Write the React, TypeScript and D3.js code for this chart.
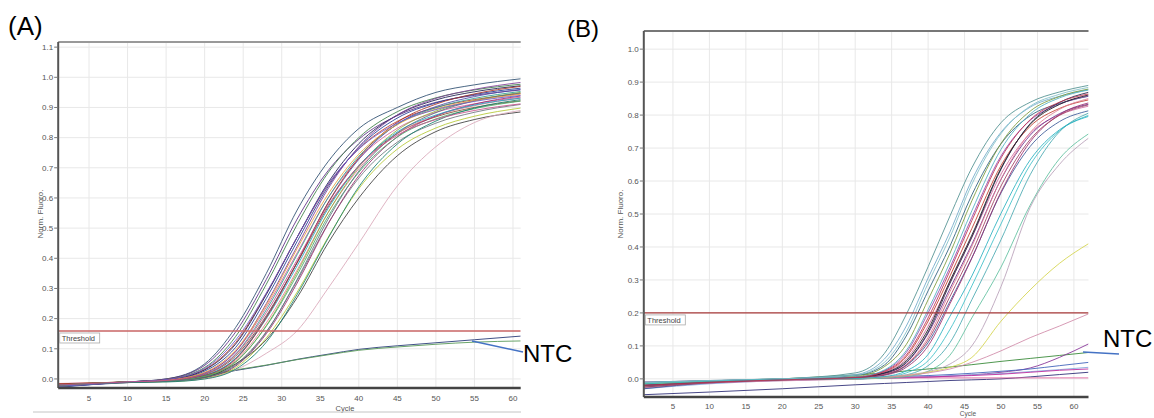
import React from 'react';
import * as d3 from 'd3';

const cyclesA = [1, 10, 15, 20, 24, 28, 32, 36, 40, 45, 50, 55, 61];
const cyclesB = [1, 10, 20, 30, 34, 37, 40, 43, 46, 50, 54, 58, 62];

const xTicks = [5, 10, 15, 20, 25, 30, 35, 40, 45, 50, 55, 60];
const yTicksA = [0, 0.1, 0.2, 0.3, 0.4, 0.5, 0.6, 0.7, 0.8, 0.9, 1.0, 1.1];
const yTicksB = [0, 0.1, 0.2, 0.3, 0.4, 0.5, 0.6, 0.7, 0.8, 0.9, 1.0];

const thresholdA = 0.159;
const thresholdB = 0.2;

// (A) amplification curves, Norm. Fluoro.
const curvesA = [
  [-0.02, -0.01, 0.0, 0.05, 0.17, 0.35, 0.56, 0.72, 0.83, 0.9, 0.95, 0.975, 0.995],
  [-0.025, -0.01, 0.0, 0.045, 0.155, 0.33, 0.53, 0.69, 0.795, 0.873, 0.917, 0.94, 0.958],
  [-0.018, -0.01, -0.001, 0.038, 0.14, 0.314, 0.512, 0.683, 0.8, 0.886, 0.932, 0.958, 0.977],
  [-0.022, -0.01, -0.002, 0.032, 0.12, 0.283, 0.47, 0.643, 0.763, 0.854, 0.9, 0.926, 0.946],
  [-0.028, -0.01, -0.004, 0.026, 0.104, 0.267, 0.456, 0.637, 0.767, 0.865, 0.915, 0.943, 0.964],
  [-0.015, -0.01, -0.004, 0.02, 0.09, 0.238, 0.418, 0.6, 0.73, 0.831, 0.884, 0.912, 0.934],
  [-0.02, -0.01, -0.005, 0.017, 0.082, 0.229, 0.412, 0.6, 0.738, 0.844, 0.899, 0.93, 0.953],
  [-0.025, -0.01, -0.005, 0.015, 0.075, 0.21, 0.385, 0.57, 0.707, 0.814, 0.869, 0.9, 0.922],
  [-0.018, -0.01, -0.006, 0.012, 0.068, 0.206, 0.387, 0.582, 0.728, 0.845, 0.903, 0.936, 0.96],
  [-0.02, -0.01, -0.006, 0.01, 0.06, 0.186, 0.361, 0.551, 0.697, 0.813, 0.872, 0.906, 0.931],
  [-0.022, -0.01, -0.007, 0.008, 0.055, 0.177, 0.354, 0.551, 0.703, 0.825, 0.888, 0.923, 0.95],
  [-0.025, -0.01, -0.007, 0.006, 0.048, 0.157, 0.326, 0.515, 0.666, 0.785, 0.848, 0.884, 0.91],
  [-0.02, -0.01, -0.008, 0.004, 0.042, 0.15, 0.318, 0.513, 0.674, 0.803, 0.872, 0.911, 0.938],
  [-0.018, -0.01, -0.009, 0.002, 0.037, 0.136, 0.288, 0.469, 0.631, 0.762, 0.832, 0.871, 0.898],
  [-0.02, -0.012, -0.008, 0.005, 0.05, 0.13, 0.27, 0.45, 0.6, 0.74, 0.82, 0.86, 0.885],
  [-0.02, -0.012, -0.008, 0.0, 0.03, 0.085, 0.16, 0.3, 0.45, 0.64, 0.77, 0.85, 0.89],
  [-0.02, -0.01, -0.003, 0.03, 0.115, 0.28, 0.47, 0.65, 0.78, 0.875, 0.925, 0.952, 0.972],
  [-0.022, -0.01, -0.004, 0.02, 0.09, 0.25, 0.44, 0.63, 0.77, 0.875, 0.93, 0.96, 0.983],
  [-0.02, -0.01, -0.006, 0.012, 0.068, 0.2, 0.375, 0.564, 0.706, 0.819, 0.875, 0.908, 0.931],
  [-0.016, -0.01, -0.006, 0.011, 0.065, 0.203, 0.386, 0.584, 0.733, 0.851, 0.911, 0.945, 0.97],
  [-0.024, -0.01, -0.007, 0.009, 0.057, 0.175, 0.345, 0.538, 0.685, 0.802, 0.862, 0.896, 0.921],
  [-0.02, -0.01, -0.008, 0.005, 0.045, 0.155, 0.33, 0.529, 0.689, 0.815, 0.883, 0.922, 0.948],
  [-0.02, -0.01, -0.004, 0.022, 0.095, 0.245, 0.432, 0.612, 0.745, 0.843, 0.895, 0.922, 0.944],
  [-0.025, -0.01, -0.002, 0.035, 0.128, 0.285, 0.47, 0.645, 0.762, 0.848, 0.893, 0.92, 0.94],
  [-0.02, -0.012, -0.01, 0.0, 0.032, 0.122, 0.28, 0.466, 0.637, 0.779, 0.855, 0.898, 0.926],
  [-0.02, -0.01, -0.005, 0.016, 0.08, 0.22, 0.395, 0.575, 0.706, 0.808, 0.86, 0.89, 0.912],
];
const coloursA = [
  '#2b4c6f', '#5b2c83', '#3a7d44', '#c0392b', '#1f3a93', '#d35d9a', '#2a9d8f', '#7b4f2c',
  '#4a4aa8', '#e07b91', '#8db33a', '#6c757d', '#9b2d6e', '#b5c834', '#3c3c3c', '#d9a7b8',
  '#1b1b4d', '#7d3c98', '#20a4c4', '#a93226', '#48a868', '#5d6d7e', '#e6a23c', '#6a5acd',
  '#17806d', '#c44e8a',
];
const ntcA = [
  [-0.025, -0.012, -0.005, 0.01, 0.028, 0.045, 0.065, 0.082, 0.098, 0.11, 0.12, 0.13, 0.142],
  [-0.02, -0.01, -0.004, 0.012, 0.03, 0.046, 0.064, 0.08, 0.095, 0.106, 0.115, 0.122, 0.126],
];
const ntcColoursA = ['#2c3e7a', '#5a9a5a'];

// (B) amplification curves
const curvesB = [
  [-0.02, -0.01, 0.0, 0.018, 0.077, 0.195, 0.34, 0.494, 0.64, 0.777, 0.839, 0.87, 0.89],
  [-0.015, -0.008, 0.0, 0.013, 0.06, 0.16, 0.306, 0.446, 0.603, 0.748, 0.824, 0.857, 0.877],
  [-0.025, -0.01, -0.002, 0.01, 0.042, 0.13, 0.267, 0.403, 0.558, 0.713, 0.798, 0.835, 0.857],
  [-0.02, -0.01, -0.003, 0.007, 0.037, 0.104, 0.24, 0.381, 0.54, 0.714, 0.812, 0.856, 0.879],
  [-0.018, -0.008, -0.002, 0.005, 0.025, 0.08, 0.2, 0.338, 0.49, 0.676, 0.784, 0.833, 0.858],
  [-0.022, -0.01, -0.003, 0.004, 0.021, 0.067, 0.175, 0.312, 0.456, 0.647, 0.766, 0.82, 0.846],
  [-0.028, -0.012, -0.004, 0.004, 0.02, 0.06, 0.16, 0.294, 0.429, 0.621, 0.745, 0.8, 0.827],
  [-0.012, -0.006, 0.0, 0.004, 0.018, 0.055, 0.15, 0.297, 0.436, 0.639, 0.772, 0.832, 0.861],
  [-0.02, -0.01, -0.002, 0.003, 0.016, 0.048, 0.138, 0.274, 0.408, 0.605, 0.739, 0.804, 0.833],
  [-0.016, -0.008, -0.001, 0.003, 0.014, 0.043, 0.126, 0.265, 0.402, 0.606, 0.747, 0.817, 0.85],
  [-0.03, -0.012, -0.004, 0.002, 0.012, 0.04, 0.11, 0.235, 0.367, 0.564, 0.705, 0.78, 0.813],
  [-0.018, -0.008, -0.002, 0.002, 0.011, 0.035, 0.1, 0.228, 0.366, 0.567, 0.719, 0.801, 0.837],
  [-0.012, -0.006, -0.001, 0.0, 0.005, 0.018, 0.055, 0.15, 0.282, 0.47, 0.649, 0.752, 0.799],
  [-0.02, -0.01, -0.002, 0.0, 0.004, 0.012, 0.04, 0.11, 0.24, 0.422, 0.619, 0.749, 0.806],
  [-0.015, -0.008, 0.0, 0.0, 0.002, 0.007, 0.023, 0.072, 0.185, 0.339, 0.527, 0.667, 0.743],
  [-0.01, -0.005, 0.0, 0.002, 0.007, 0.012, 0.022, 0.045, 0.1, 0.28, 0.52, 0.65, 0.73],
  [-0.015, -0.008, -0.002, 0.0, 0.005, 0.01, 0.02, 0.035, 0.065, 0.175, 0.27, 0.35, 0.41],
  [-0.02, -0.012, -0.006, 0.0, 0.005, 0.01, 0.018, 0.03, 0.05, 0.085, 0.125, 0.16, 0.197],
  [-0.01, -0.005, 0.0, 0.005, 0.027, 0.086, 0.21, 0.354, 0.51, 0.696, 0.803, 0.852, 0.876],
  [-0.02, -0.01, -0.002, 0.003, 0.017, 0.05, 0.142, 0.29, 0.43, 0.636, 0.774, 0.838, 0.869],
  [-0.025, -0.012, -0.003, 0.003, 0.013, 0.042, 0.118, 0.25, 0.384, 0.585, 0.726, 0.799, 0.831],
  [-0.012, -0.006, 0.0, 0.011, 0.05, 0.142, 0.29, 0.43, 0.59, 0.744, 0.827, 0.863, 0.884],
  [-0.015, -0.008, -0.002, 0.001, 0.007, 0.024, 0.074, 0.19, 0.312, 0.502, 0.664, 0.755, 0.796],
  [-0.02, -0.01, -0.003, 0.004, 0.023, 0.072, 0.185, 0.328, 0.48, 0.67, 0.786, 0.839, 0.864],
];
const coloursB = [
  '#4f8f8f', '#6fa8c8', '#2c5f7c', '#7a9a3a', '#8e44ad', '#c0392b', '#d16ba5', '#1a1a1a',
  '#6b2d8b', '#e07b91', '#3b5998', '#9b2d6e', '#3cc0c8', '#48a8b0', '#5fbf9f', '#b8a0b8',
  '#d4d44a', '#d08aa8', '#4fb0c0', '#222244', '#a04060', '#80c0c8', '#28b0c0', '#c03050',
];
const ntcB = [
  [-0.02, -0.01, 0.0, 0.012, 0.018, 0.024, 0.03, 0.036, 0.043, 0.053, 0.062, 0.071, 0.08],
  [-0.01, -0.006, -0.002, 0.0, 0.002, 0.003, 0.005, 0.008, 0.012, 0.02, 0.033, 0.065, 0.106],
  [-0.015, -0.008, -0.002, 0.003, 0.006, 0.008, 0.01, 0.013, 0.017, 0.023, 0.03, 0.04, 0.05],
  [-0.03, -0.015, -0.005, 0.0, 0.003, 0.005, 0.007, 0.01, 0.012, 0.016, 0.022, 0.028, 0.035],
  [-0.048, -0.04, -0.03, -0.018, -0.014, -0.011, -0.008, -0.005, -0.003, 0.0, 0.006, 0.013, 0.02],
  [-0.01, -0.006, -0.002, 0.0, 0.002, 0.003, 0.003, 0.003, 0.003, 0.003, 0.003, 0.003, 0.003],
  [-0.02, -0.012, -0.004, 0.0, 0.003, 0.005, 0.006, 0.008, 0.01, 0.014, 0.02, 0.026, 0.03],
];
const ntcColoursB = ['#3c8c3c', '#8b3a9b', '#4466bb', '#88aadd', '#33337a', '#e066a0', '#c030a0'];

const font = 'Liberation Sans, Arial, sans-serif';

type PanelProps = {
  id: string;
  left: number; right: number; top: number; bottom: number;
  xDomain: [number, number]; yDomain: [number, number];
  yTicks: number[]; cycles: number[];
  curves: number[][]; colours: string[];
  ntc: number[][]; ntcColours: string[];
  threshold: number; thresholdColour: string;
  tickLabelGap: number; cycleX: number; cycleY: number; cycleSize: number; titleX: number;
  topColour: string;
};

const Panel = (p: PanelProps) => {
  const x = d3.scaleLinear().domain(p.xDomain).range([p.left, p.right]);
  const y = d3.scaleLinear().domain(p.yDomain).range([p.bottom, p.top]);
  const line = d3.line<number>()
    .x((_, i) => x(p.cycles[i]))
    .y(d => y(d))
    .curve(d3.curveMonotoneX);
  const ty = y(p.threshold);

  return (
    <g>
      <defs>
        <clipPath id={p.id}>
          <rect x={p.left} y={p.top} width={p.right - p.left} height={p.bottom - p.top} />
        </clipPath>
      </defs>
      {/* grid */}
      {xTicks.map(t => (
        <line key={'gx' + t} x1={x(t)} x2={x(t)} y1={p.top} y2={p.bottom} stroke="#e8e8e8" />
      ))}
      {p.yTicks.map(t => (
        <line key={'gy' + t} x1={p.left} x2={p.right} y1={y(t)} y2={y(t)} stroke="#e8e8e8" />
      ))}
      <g clipPath={`url(#${p.id})`} fill="none" strokeWidth={1}>
        {p.ntc.map((c, i) => (
          <path key={'n' + i} d={line(c) || ''} stroke={p.ntcColours[i]} opacity={0.9} />
        ))}
        {p.curves.map((c, i) => (
          <path key={'c' + i} d={line(c) || ''} stroke={p.colours[i]} opacity={0.85} />
        ))}
        <line x1={p.left} x2={p.right} y1={ty} y2={ty} stroke={p.thresholdColour} strokeWidth={1.4} />
      </g>
      {/* axes */}
      <line x1={p.left} x2={p.right} y1={p.top} y2={p.top} stroke={p.topColour} strokeWidth={2} />
      <line x1={p.left} x2={p.left} y1={p.top} y2={p.bottom} stroke="#555" strokeWidth={2} />
      <line x1={p.left} x2={p.right} y1={p.bottom} y2={p.bottom} stroke="#444" strokeWidth={2.5} />
      {p.yTicks.map(t => (
        <g key={'ty' + t}>
          <line x1={p.left - 4} x2={p.left} y1={y(t)} y2={y(t)} stroke="#777" />
          <text x={p.left - 5} y={y(t) + 2.8} textAnchor="end" fontSize={8} fill="#555" fontFamily={font}>
            {t.toFixed(1)}
          </text>
        </g>
      ))}
      {xTicks.map(t => (
        <text key={'tx' + t} x={x(t)} y={p.bottom + p.tickLabelGap} textAnchor="middle" fontSize={8} fill="#555" fontFamily={font}>
          {t}
        </text>
      ))}
      <text x={p.cycleX} y={p.cycleY} textAnchor="middle" fontSize={p.cycleSize} fill="#555" fontFamily={font}>Cycle</text>
      <text transform={`translate(${p.titleX},214) rotate(-90)`} textAnchor="middle" fontSize={8} fill="#555" fontFamily={font}>
        Norm. Fluoro.
      </text>
      {/* threshold label */}
      <rect x={p.left + 1.5} y={ty + 2} width={40} height={10} fill="#fff" stroke="#aaa" strokeWidth={0.8} />
      <text x={p.left + 3.5} y={ty + 10} fontSize={7.5} fill="#444" fontFamily={font}>Threshold</text>
    </g>
  );
};

export default function App() {
  return (
    <svg width={1154} height={418} style={{ position: 'absolute', left: 0, top: 0, background: '#fff' }}>
      <Panel
        id="clipA" left={58.2} right={520.7} top={42} bottom={388}
        xDomain={[1, 61]} yDomain={[-0.03, 1.117]} yTicks={yTicksA} cycles={cyclesA}
        curves={curvesA} colours={coloursA} ntc={ntcA} ntcColours={ntcColoursA}
        threshold={thresholdA} thresholdColour="#c86464"
        tickLabelGap={13} cycleX={345} cycleY={411} cycleSize={7.5} titleX={43} topColour="#999"
      />
      <Panel
        id="clipB" left={643.8} right={1088.5} top={31} bottom={397}
        xDomain={[1, 62]} yDomain={[-0.055, 1.055]} yTicks={yTicksB} cycles={cyclesB}
        curves={curvesB} colours={coloursB} ntc={ntcB} ntcColours={ntcColoursB}
        threshold={thresholdB} thresholdColour="#a83a3a"
        tickLabelGap={12} cycleX={968} cycleY={416.3} cycleSize={6.5} titleX={623} topColour="#777"
      />
      {/* frame line under panel A */}
      <line x1={33} x2={521} y1={412} y2={412} stroke="#c4c4c4" />
      <text x={8} y={34.5} fontSize={26} fontFamily={font} fill="#000">(A)</text>
      <text x={567} y={37} fontSize={24} fontFamily={font} fill="#000">(B)</text>
      {/* NTC callouts */}
      <line x1={472} y1={341} x2={523} y2={352} stroke="#4472c4" strokeWidth={1.5} />
      <text x={523} y={362} fontSize={24} fontFamily={font} fill="#000">NTC</text>
      <line x1={1083} y1={352} x2={1119} y2={354} stroke="#4472c4" strokeWidth={1.5} />
      <text x={1103} y={347} fontSize={24} fontFamily={font} fill="#000">NTC</text>
    </svg>
  );
}
